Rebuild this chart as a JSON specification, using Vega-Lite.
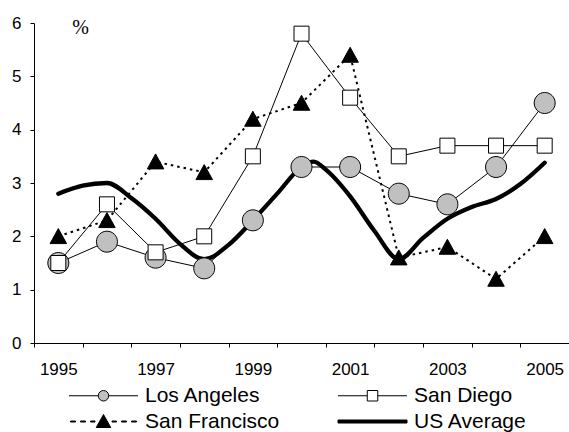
{
  "$schema": "https://vega.github.io/schema/vega-lite/v6.json",
  "width": 535,
  "height": 320,
  "autosize": {"type": "none"},
  "padding": {"left": 34, "top": 23, "right": 0, "bottom": 89},
  "background": "white",
  "config": {
    "view": {"stroke": null},
    "axis": {"labelFont": "Liberation Sans", "labelColor": "black", "tickColor": "black", "domainColor": "black", "grid": false, "labelFontSize": 17, "tickWidth": 1, "domainWidth": 1}
  },
  "data": {"values": [
    {"city": "Los Angeles", "year": 1995, "value": 1.5},
    {"city": "Los Angeles", "year": 1996, "value": 1.9},
    {"city": "Los Angeles", "year": 1997, "value": 1.6},
    {"city": "Los Angeles", "year": 1998, "value": 1.4},
    {"city": "Los Angeles", "year": 1999, "value": 2.3},
    {"city": "Los Angeles", "year": 2000, "value": 3.3},
    {"city": "Los Angeles", "year": 2001, "value": 3.3},
    {"city": "Los Angeles", "year": 2002, "value": 2.8},
    {"city": "Los Angeles", "year": 2003, "value": 2.6},
    {"city": "Los Angeles", "year": 2004, "value": 3.3},
    {"city": "Los Angeles", "year": 2005, "value": 4.5},
    {"city": "San Diego", "year": 1995, "value": 1.5},
    {"city": "San Diego", "year": 1996, "value": 2.6},
    {"city": "San Diego", "year": 1997, "value": 1.7},
    {"city": "San Diego", "year": 1998, "value": 2.0},
    {"city": "San Diego", "year": 1999, "value": 3.5},
    {"city": "San Diego", "year": 2000, "value": 5.8},
    {"city": "San Diego", "year": 2001, "value": 4.6},
    {"city": "San Diego", "year": 2002, "value": 3.5},
    {"city": "San Diego", "year": 2003, "value": 3.7},
    {"city": "San Diego", "year": 2004, "value": 3.7},
    {"city": "San Diego", "year": 2005, "value": 3.7},
    {"city": "San Francisco", "year": 1995, "value": 2.0},
    {"city": "San Francisco", "year": 1996, "value": 2.3},
    {"city": "San Francisco", "year": 1997, "value": 3.4},
    {"city": "San Francisco", "year": 1998, "value": 3.2},
    {"city": "San Francisco", "year": 1999, "value": 4.2},
    {"city": "San Francisco", "year": 2000, "value": 4.5},
    {"city": "San Francisco", "year": 2001, "value": 5.4},
    {"city": "San Francisco", "year": 2002, "value": 1.6},
    {"city": "San Francisco", "year": 2003, "value": 1.8},
    {"city": "San Francisco", "year": 2004, "value": 1.2},
    {"city": "San Francisco", "year": 2005, "value": 2.0},
    {"city": "US Average", "year": 1995, "value": 2.8},
    {"city": "US Average", "year": 1995.5, "value": 2.95},
    {"city": "US Average", "year": 1996, "value": 3.0},
    {"city": "US Average", "year": 1996.5, "value": 2.72},
    {"city": "US Average", "year": 1997, "value": 2.33},
    {"city": "US Average", "year": 1997.5, "value": 1.86},
    {"city": "US Average", "year": 1998, "value": 1.57},
    {"city": "US Average", "year": 1998.5, "value": 1.84},
    {"city": "US Average", "year": 1999, "value": 2.3},
    {"city": "US Average", "year": 1999.5, "value": 2.8},
    {"city": "US Average", "year": 2000, "value": 3.3},
    {"city": "US Average", "year": 2000.25, "value": 3.4},
    {"city": "US Average", "year": 2000.5, "value": 3.25},
    {"city": "US Average", "year": 2001, "value": 2.75},
    {"city": "US Average", "year": 2001.5, "value": 2.1},
    {"city": "US Average", "year": 2002, "value": 1.57},
    {"city": "US Average", "year": 2002.5, "value": 1.97},
    {"city": "US Average", "year": 2003, "value": 2.33},
    {"city": "US Average", "year": 2003.5, "value": 2.55},
    {"city": "US Average", "year": 2004, "value": 2.7},
    {"city": "US Average", "year": 2004.5, "value": 2.98},
    {"city": "US Average", "year": 2005, "value": 3.38}
  ]},
  "encoding": {
    "x": {
      "field": "year", "type": "quantitative",
      "scale": {"domain": [1994.5, 2005.5], "nice": false, "zero": false},
      "axis": {
        "title": null,
        "values": [1994.5, 1995.5, 1996.5, 1997.5, 1998.5, 1999.5, 2000.5, 2001.5, 2002.5, 2003.5, 2004.5, 2005.5],
        "labelExpr": "datum.value % 2 == 0.5 ? '' + (datum.value + 0.5) : ''",
        "labelOffset": 24.3,
        "labelFont": "Liberation Sans", "labelFontSize": 17,
        "labelOverlap": false, "labelBound": false, "labelFlush": false,
        "tickSize": 4, "labelPadding": 14
      }
    },
    "y": {
      "field": "value", "type": "quantitative",
      "scale": {"domain": [0, 6], "nice": false},
      "axis": {
        "values": [0, 1, 2, 3, 4, 5, 6],
        "labelFont": "Liberation Sans", "labelFontSize": 17,
        "title": "%", "titleAngle": 0, "titleX": 46, "titleY": 4,
        "titleAlign": "center", "titleBaseline": "middle",
        "titleFont": "Liberation Serif", "titleFontSize": 20, "titleFontWeight": "normal", "titleColor": "black",
        "tickSize": 4, "labelPadding": 9
      }
    }
  },
  "layer": [
    {
      "transform": [{"filter": "datum.city === 'US Average'"}],
      "mark": {"type": "line", "interpolate": "monotone", "stroke": "black", "strokeWidth": 4.3, "strokeCap": "round", "strokeJoin": "round"}
    },
    {
      "transform": [{"filter": "datum.city === 'Los Angeles' || datum.city === 'San Diego'"}],
      "mark": {"type": "line", "stroke": "black", "strokeWidth": 1},
      "encoding": {"detail": {"field": "city", "type": "nominal"}}
    },
    {
      "transform": [{"filter": "datum.city === 'San Francisco'"}],
      "mark": {"type": "line", "stroke": "black", "strokeWidth": 2, "strokeDash": [2.5, 4]}
    },
    {
      "transform": [{"filter": "datum.city !== 'US Average'"}],
      "mark": {"type": "point", "filled": true, "stroke": "black", "strokeWidth": 1, "size": 100, "opacity": 1},
      "encoding": {
        "shape": {
          "field": "city", "type": "nominal",
          "scale": {
            "domain": ["Los Angeles", "San Diego", "San Francisco", "US Average"],
            "range": ["M2.1,0A2.1,2.1,0,1,1,-2.1,0A2.1,2.1,0,1,1,2.1,0Z", "M-1.5,-1.5H1.5V1.5H-1.5Z", "M0,-1.55L1.65,1.45L-1.65,1.45Z", "stroke"]
          },
          "legend": null
        },
        "fill": {
          "field": "city", "type": "nominal",
          "scale": {"domain": ["Los Angeles", "San Diego", "San Francisco", "US Average"], "range": ["#c0c0c0", "#ffffff", "#000000", "#000000"]},
          "legend": null
        }
      }
    },
    {
      "transform": [{"filter": "false"}],
      "mark": {"type": "point", "filled": true, "stroke": "black", "strokeWidth": 1, "size": 100, "opacity": 1},
      "encoding": {
        "shape": {
          "field": "city", "type": "nominal",
          "scale": {
            "domain": ["Los Angeles", "San Diego", "San Francisco", "US Average"],
            "range": [
              "M-6.9,0H-1.05M1.05,0H6.9M1.05,0A1.05,1.05,0,1,1,-1.05,0A1.05,1.05,0,1,1,1.05,0Z",
              "M-6.9,0H-1.05M1.05,0H6.9M-1.05,-1.05H1.05V1.05H-1.05Z",
              "M-6.6,-0.1H-5.6V0.1H-6.6ZM-4.6,-0.1H-3.6V0.1H-4.6ZM-2.6,-0.1H-1.7V0.1H-2.6ZM1.7,-0.1H2.6V0.1H1.7ZM3.6,-0.1H4.6V0.1H3.6ZM5.6,-0.1H6.6V0.1H5.6ZM0,-1.4L1.45,1.2L-1.45,1.2Z",
              "M-6.9,-0.3H6.9V0.3H-6.9Z"
            ]
          },
          "legend": {
            "orient": "none", "legendX": 59, "legendY": 362,
            "direction": "horizontal", "columns": 2, "title": null, "padding": 0,
            "labelFont": "Liberation Sans", "labelFontSize": 21, "labelColor": "black", "labelLimit": 300,
            "labelOffset": 31, "symbolOffset": 0, "columnPadding": 56, "rowPadding": 4,
            "symbolSize": 100, "symbolStrokeWidth": 1, "symbolOpacity": 1
          }
        },
        "fill": {
          "field": "city", "type": "nominal",
          "scale": {"domain": ["Los Angeles", "San Diego", "San Francisco", "US Average"], "range": ["#c0c0c0", "#ffffff", "#000000", "#000000"]},
          "legend": null
        }
      }
    }
  ],
  "resolve": {"scale": {"shape": "independent", "fill": "independent"}}
}
